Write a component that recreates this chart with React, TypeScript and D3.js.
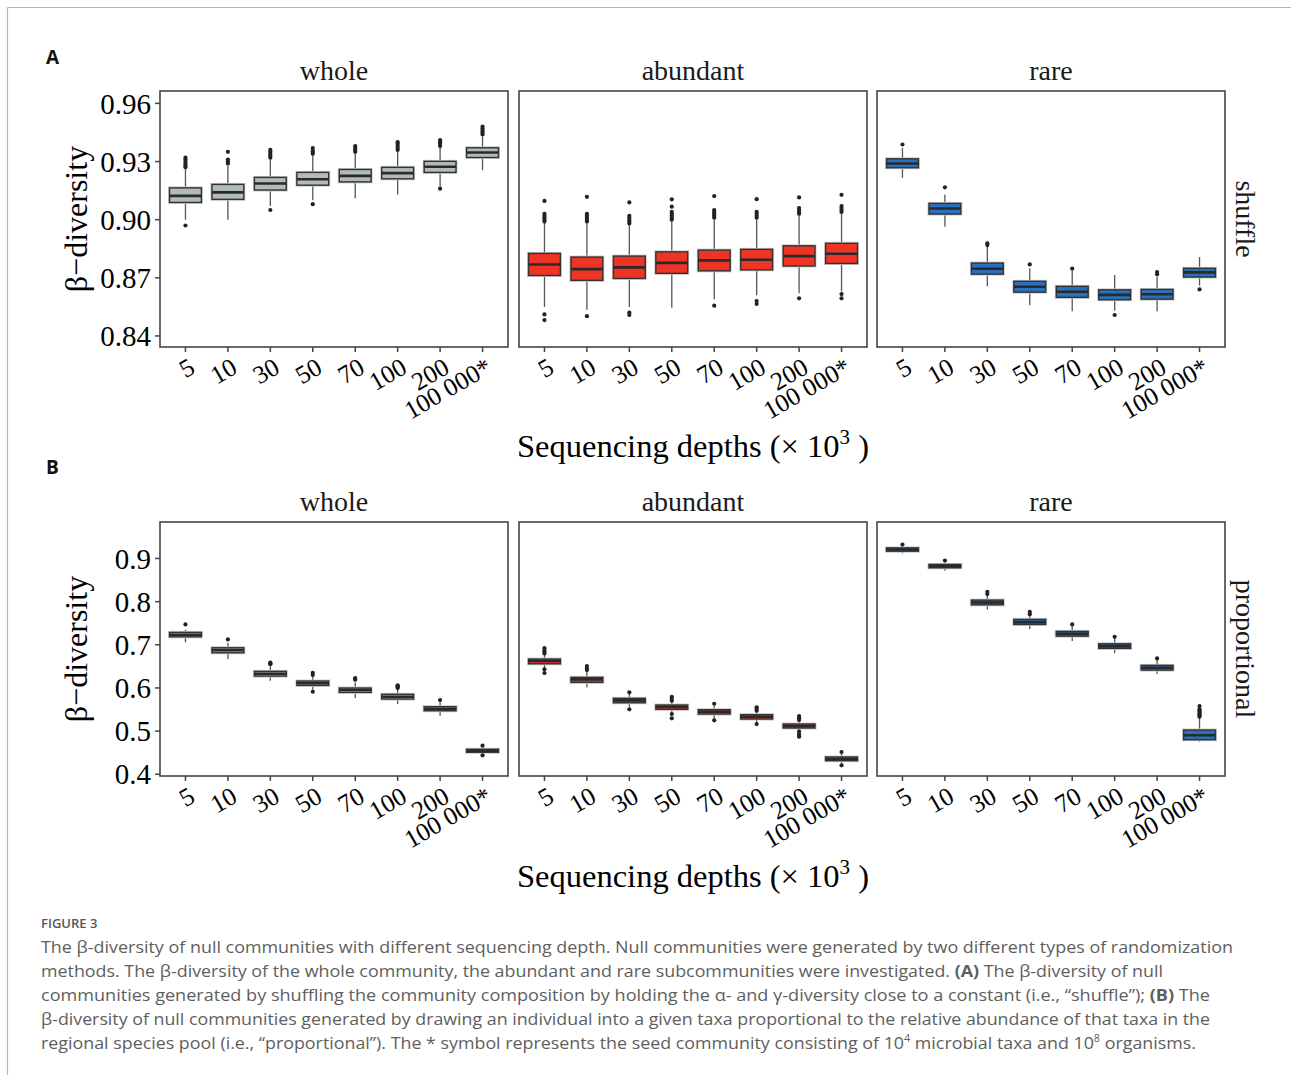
import React from "react";
import * as d3 from "d3";

const categories = ["5", "10", "30", "50", "70", "100", "200", "100 000*"];
const subsets = ["whole", "abundant", "rare"];
const methods = ["shuffle", "proportional"];
const shuffleTicks = [0.84, 0.87, 0.9, 0.93, 0.96];
const proportionalTicks = [0.4, 0.5, 0.6, 0.7, 0.8, 0.9];

// [lower whisker, q1, median, q3, upper whisker]
const shuffleWhole = [
  [0.9, 0.9089, 0.9123, 0.9164, 0.926],
  [0.9, 0.9105, 0.9141, 0.9182, 0.928],
  [0.907, 0.9153, 0.9187, 0.9218, 0.931],
  [0.91, 0.9178, 0.9209, 0.9244, 0.933],
  [0.911, 0.9195, 0.9226, 0.9259, 0.934],
  [0.913, 0.9211, 0.924, 0.927, 0.935],
  [0.917, 0.9244, 0.9273, 0.9301, 0.937],
  [0.9256, 0.9321, 0.9347, 0.9371, 0.943],
];
const shuffleWholeOut = [
  [0.897, 0.927, 0.928, 0.929, 0.93, 0.931, 0.932],
  [0.929, 0.93, 0.931, 0.935],
  [0.905, 0.932, 0.933, 0.934, 0.935, 0.936],
  [0.908, 0.934, 0.935, 0.9355, 0.937],
  [0.935, 0.936, 0.937, 0.938],
  [0.936, 0.937, 0.938, 0.939, 0.94],
  [0.916, 0.938, 0.939, 0.94, 0.941],
  [0.944, 0.945, 0.946, 0.947, 0.948],
];
const shuffleAbundant = [
  [0.855, 0.8712, 0.8769, 0.8826, 0.8985],
  [0.8535, 0.8687, 0.8745, 0.8807, 0.898],
  [0.855, 0.8697, 0.8754, 0.8812, 0.897],
  [0.8545, 0.8723, 0.8777, 0.8834, 0.899],
  [0.859, 0.8736, 0.879, 0.8843, 0.9],
  [0.861, 0.8741, 0.8793, 0.8847, 0.9],
  [0.862, 0.8761, 0.8812, 0.8865, 0.902],
  [0.863, 0.8774, 0.8824, 0.8878, 0.903],
];
const shuffleAbundantOut = [
  [0.8482, 0.8511, 0.899, 0.9, 0.901, 0.902, 0.903, 0.9097],
  [0.8502, 0.899, 0.9, 0.901, 0.902, 0.903, 0.9118],
  [0.8508, 0.852, 0.898, 0.899, 0.9, 0.901, 0.902, 0.9089],
  [0.9, 0.901, 0.902, 0.903, 0.904, 0.9067, 0.9105],
  [0.8556, 0.901, 0.902, 0.903, 0.904, 0.905, 0.9122],
  [0.8565, 0.858, 0.901, 0.902, 0.903, 0.904, 0.9106],
  [0.8594, 0.903, 0.904, 0.905, 0.906, 0.9115],
  [0.8594, 0.8616, 0.904, 0.905, 0.906, 0.907, 0.9128],
];
const shuffleRare = [
  [0.9216, 0.9268, 0.929, 0.9314, 0.937],
  [0.8963, 0.9029, 0.9058, 0.9084, 0.913],
  [0.8657, 0.8719, 0.8747, 0.8776, 0.886],
  [0.8558, 0.8626, 0.8654, 0.8682, 0.875],
  [0.8528, 0.8599, 0.8628, 0.8656, 0.8735],
  [0.853, 0.8587, 0.8612, 0.8638, 0.8715],
  [0.8528, 0.859, 0.8615, 0.864, 0.8705],
  [0.866, 0.8704, 0.8728, 0.8749, 0.8807],
];
const shuffleRareOut = [[0.9388], [0.9167], [0.8869, 0.8878], [0.8769], [0.8747], [0.8508], [0.8718, 0.873], [0.864]];

const propWhole = [
  [0.7056, 0.7185, 0.7231, 0.7287, 0.735],
  [0.6669, 0.6815, 0.6877, 0.6931, 0.705],
  [0.6167, 0.6275, 0.6329, 0.6384, 0.65],
  [0.596, 0.606, 0.6113, 0.616, 0.627],
  [0.5759, 0.5898, 0.5951, 0.5998, 0.613],
  [0.5627, 0.5743, 0.5797, 0.5852, 0.598],
  [0.5356, 0.5472, 0.5519, 0.5565, 0.567],
  [0.447, 0.451, 0.4546, 0.4579, 0.462],
];
const propWholeOut = [[0.7472], [0.7125], [0.655, 0.657, 0.659], [0.5912, 0.63, 0.6352], [0.619, 0.621, 0.6231], [0.6, 0.602, 0.604, 0.606], [0.572], [0.444, 0.4662]];
const propAbundant = [
  [0.645, 0.656, 0.6623, 0.6669, 0.678],
  [0.6014, 0.613, 0.6199, 0.6245, 0.637],
  [0.556, 0.5657, 0.5713, 0.5759, 0.586],
  [0.541, 0.5505, 0.5558, 0.5604, 0.569],
  [0.528, 0.5396, 0.5449, 0.5496, 0.559],
  [0.52, 0.528, 0.5334, 0.538, 0.546],
  [0.5, 0.5072, 0.5118, 0.5164, 0.524],
  [0.425, 0.4315, 0.4354, 0.44, 0.447],
];
const propAbundantOut = [
  [0.6347, 0.6431, 0.68, 0.684, 0.688, 0.6923],
  [0.6414, 0.645, 0.6507],
  [0.5505, 0.5898],
  [0.5296, 0.5396, 0.5704, 0.575, 0.5796],
  [0.525, 0.5634],
  [0.5164, 0.5472, 0.551, 0.5551],
  [0.487, 0.492, 0.4986, 0.5257, 0.53, 0.535],
  [0.4208, 0.4516],
];
const propRare = [
  [0.9116, 0.9169, 0.9208, 0.9245, 0.929],
  [0.8713, 0.8784, 0.8822, 0.8861, 0.891],
  [0.7819, 0.7926, 0.7981, 0.8035, 0.814],
  [0.7363, 0.7472, 0.7525, 0.7588, 0.768],
  [0.7086, 0.7201, 0.7255, 0.731, 0.743],
  [0.6808, 0.6917, 0.697, 0.7023, 0.715],
  [0.6322, 0.6414, 0.6468, 0.6523, 0.664],
  [0.4755, 0.4801, 0.4903, 0.5025, 0.533],
];
const propRareOut = [[0.9324], [0.8953], [0.8174, 0.8227], [0.771, 0.7764], [0.7472], [0.7185], [0.6685], [0.5334, 0.536, 0.539, 0.542, 0.545, 0.548, 0.551, 0.5581]];

const fills = ["#b1bcb8", "#ef3426", "#2b6fbf"];

const SERIF = "'Liberation Serif', 'Times New Roman', serif";
const SANS = "'Open Sans', 'Noto Sans', sans-serif";

const rows = [
  { top: 91, bottom: 347, domain: [0.8343, 0.9664], ticks: shuffleTicks, fmt: ".2f", stats: [shuffleWhole, shuffleAbundant, shuffleRare], outs: [shuffleWholeOut, shuffleAbundantOut, shuffleRareOut], letter: "A", letterY: 64, titleY: 457 },
  { top: 522, bottom: 776, domain: [0.396, 0.9845], ticks: proportionalTicks, fmt: ".1f", stats: [propWhole, propAbundant, propRare], outs: [propWholeOut, propAbundantOut, propRareOut], letter: "B", letterY: 474, titleY: 887 },
];
const colX = [160, 519, 877];
const panelW = 348;

function Panel({ row, ci, ri }) {
  const x0 = colX[ci];
  const x = d3.scalePoint().domain(categories).range([x0, x0 + panelW]).padding(0.6);
  const y = d3.scaleLinear().domain(row.domain).range([row.bottom, row.top]);
  const bw = x.step() * 0.75;
  const stats = row.stats[ci];
  const outs = row.outs[ci];
  const fmt = d3.format(row.fmt);
  return (
    <g>
      <text x={x0 + panelW / 2} y={row.top - 11} textAnchor="middle" fontFamily={SERIF} fontSize={28} fill="#1a1a1a">{subsets[ci]}</text>
      {categories.map((c, i) => {
        const [lo, q1, md, q3, hi] = stats[i];
        const cx = x(c);
        return (
          <g key={c}>
            <line x1={cx} x2={cx} y1={y(hi)} y2={y(q3)} stroke="#555" strokeWidth={1.3} />
            <line x1={cx} x2={cx} y1={y(q1)} y2={y(lo)} stroke="#555" strokeWidth={1.3} />
            <rect x={cx - bw / 2} y={y(q3)} width={bw} height={Math.max(0.5, y(q1) - y(q3))} fill={fills[ci]} stroke="#c8c8c8" strokeWidth={3} />
            <rect x={cx - bw / 2} y={y(q3)} width={bw} height={Math.max(0.5, y(q1) - y(q3))} fill={fills[ci]} stroke="#333" strokeWidth={1.4} />
            <line x1={cx - bw / 2} x2={cx + bw / 2} y1={y(md)} y2={y(md)} stroke="#2a2a2a" strokeWidth={2.6} />
            {outs[i].map((v, k) => (
              <circle key={k} cx={cx} cy={y(v)} r={2.1} fill="#222" />
            ))}
          </g>
        );
      })}
      <rect x={x0} y={row.top} width={panelW} height={row.bottom - row.top} fill="none" stroke="#444" strokeWidth={1.6} />
      {categories.map((c) => (
        <g key={c}>
          <line x1={x(c)} x2={x(c)} y1={row.bottom} y2={row.bottom + 5} stroke="#444" strokeWidth={1.5} />
          <text transform={`translate(${x(c) + 11},${row.bottom + 25}) rotate(-30)`} textAnchor="end" fontFamily={SERIF} fontSize={25.5} fill="#000">{c}</text>
        </g>
      ))}
      {ci === 0 && row.ticks.map((t) => (
        <g key={t}>
          <line x1={x0 - 5} x2={x0} y1={y(t)} y2={y(t)} stroke="#444" strokeWidth={1.5} />
          <text x={x0 - 9} y={y(t)} dy="0.35em" textAnchor="end" fontFamily={SERIF} fontSize={29} fill="#000">{fmt(t)}</text>
        </g>
      ))}
      {ci === 2 && (
        <text transform={`translate(${x0 + panelW + 11},${(row.top + row.bottom) / 2}) rotate(90)`} textAnchor="middle" fontFamily={SERIF} fontSize={28} fill="#1a1a1a">{methods[ri]}</text>
      )}
    </g>
  );
}

const captionLines = [
  { len: 1192, parts: [["The β-diversity of null communities with different sequencing depth. Null communities were generated by two different types of randomization", 0]] },
  { len: 1122, parts: [["methods. The β-diversity of the whole community, the abundant and rare subcommunities were investigated. ", 0], ["(A)", 1], [" The β-diversity of null", 0]] },
  { len: 1169, parts: [["communities generated by shuffling the community composition by holding the α- and γ-diversity close to a constant (i.e., “shuffle”); ", 0], ["(B)", 1], [" The", 0]] },
  { len: 1169, parts: [["β-diversity of null communities generated by drawing an individual into a given taxa proportional to the relative abundance of that taxa in the", 0]] },
  { len: 1155, parts: [["regional species pool (i.e., “proportional”). The * symbol represents the seed community consisting of 10", 0], ["4", 2], [" microbial taxa and 10", 0], ["8", 2], [" organisms.", 0]] },
];

export default function App() {
  return (
    <svg width={1291} height={1075} viewBox="0 0 1291 1075" style={{ position: "absolute", left: 0, top: 0, background: "#fff" }}>
      <rect x={0} y={0} width={1291} height={1075} fill="#fff" />
      <line x1={7.5} x2={1291} y1={7.5} y2={7.5} stroke="#b5b5b5" strokeWidth={1.2} />
      <line x1={7.5} x2={7.5} y1={7.5} y2={1075} stroke="#b5b5b5" strokeWidth={1.2} />
      {rows.map((row, ri) => (
        <g key={ri}>
          <text x={46} y={row.letterY} fontFamily={SANS} fontWeight={700} fontSize={19} fill="#111">{row.letter}</text>
          {colX.map((_, ci) => (
            <Panel key={ci} row={row} ci={ci} ri={ri} />
          ))}
          <text transform={`translate(87,${(row.top + row.bottom) / 2}) rotate(-90)`} textAnchor="middle" fontFamily={SERIF} fontSize={32} fill="#000">β−diversity</text>
          <text x={693} y={row.titleY} textAnchor="middle" fontFamily={SERIF} fontSize={32.5} fill="#000">
            Sequencing depths (× 10<tspan dy={-13} fontSize={21}>3</tspan><tspan dy={13}> )</tspan>
          </text>
        </g>
      ))}
      <text x={41} y={928} fontFamily={SANS} fontWeight={600} fontSize={13} fill="#555">FIGURE 3</text>
      {captionLines.map((ln, i) => (
        <text key={i} x={41} y={953 + i * 24} fontFamily={SANS} fontSize={16.5} fill="#5e5e5e" textLength={ln.len} lengthAdjust="spacingAndGlyphs">
          {ln.parts.map(([s, k], j) =>
            k === 2 ? (
              <tspan key={j} fontSize={10} dy={-7}>{s}</tspan>
            ) : (
              <tspan key={j} fontWeight={k === 1 ? 700 : 400} dy={j > 0 && ln.parts[j - 1][1] === 2 ? 7 : 0}>{s}</tspan>
            )
          )}
        </text>
      ))}
    </svg>
  );
}
